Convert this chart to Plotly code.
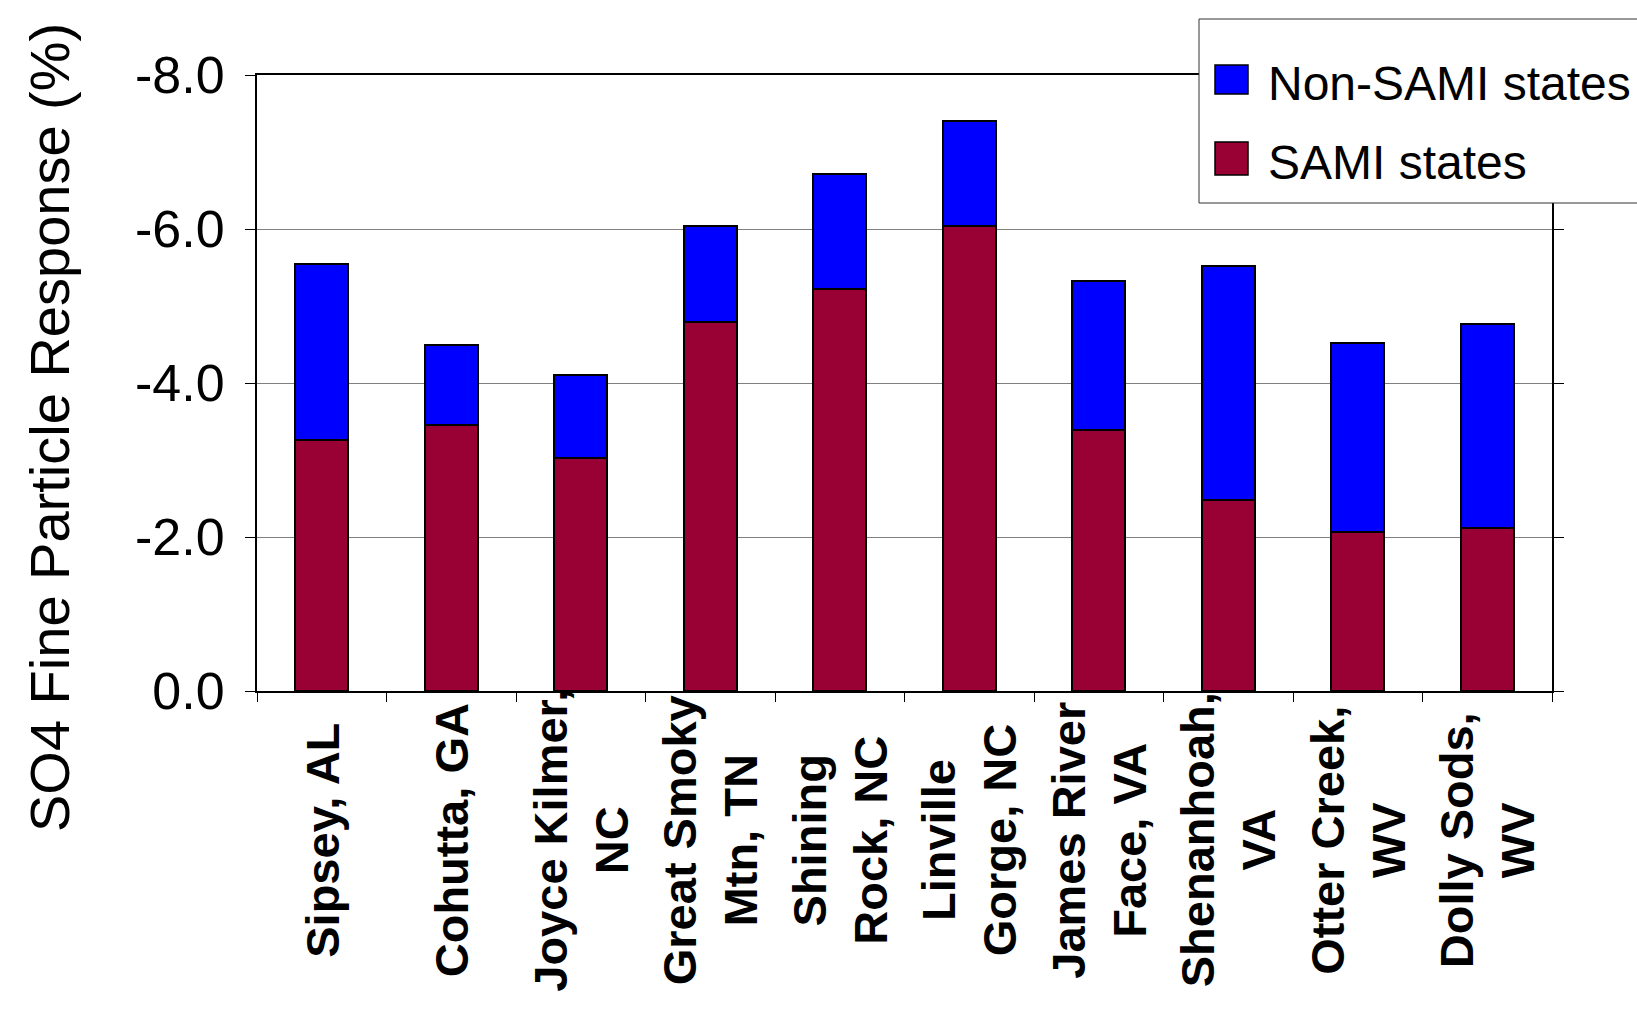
import plotly.graph_objects as go

# ---- data ----
sites = ["Sipsey, AL", "Cohutta, GA", "Joyce Kilmer, NC", "Great Smoky Mtn, TN",
         "Shining Rock, NC", "Linville Gorge, NC", "James River Face, VA",
         "Shenanhoah, VA", "Otter Creek, WV", "Dolly Sods, WV"]
site_labels = ["Sipsey, AL", "Cohutta, GA", "Joyce Kilmer,<br>NC", "Great Smoky<br>Mtn, TN",
               "Shining<br>Rock, NC", "Linville<br>Gorge, NC", "James River<br>Face, VA",
               "Shenanhoah,<br>VA", "Otter Creek,<br>WV", "Dolly Sods,<br>WV"]
sami_states = [-3.26, -3.45, -3.02, -4.79, -5.22, -6.04, -3.39, -2.48, -2.07, -2.12]
non_sami_states = [-2.28, -1.05, -1.08, -1.25, -1.49, -1.36, -1.94, -3.04, -2.45, -2.64]
y_ticks = [0, -2, -4, -6, -8]
y_tick_text = ["0.0", "-2.0", "-4.0", "-6.0", "-8.0"]
series_names = ["SAMI states", "Non-SAMI states"]
series_colors = ["#990033", "#0000FF"]

SANS = "Liberation Sans, Arial, sans-serif"

fig = go.Figure()
for name, vals, col in zip(series_names, [sami_states, non_sami_states], series_colors):
    fig.add_trace(go.Bar(x=sites, y=vals, name=name, marker_color=col,
                         marker_line=dict(color="black", width=2), showlegend=False))

W, H = 1637, 1010
L, R, T, B = 257, 85, 75, 319
pw, ph = W - L - R, H - T - B

def px(x):
    return (x - L) / pw

def py(y):
    return (H - B - y) / ph

fig.update_layout(
    width=W, height=H, barmode="stack", bargap=0.59,
    margin=dict(l=L, r=R, t=T, b=B),
    plot_bgcolor="white", paper_bgcolor="white",
    xaxis=dict(type="category", showticklabels=False, ticks="outside", ticklen=9,
               tickwidth=1, tickcolor="black", tickson="boundaries",
               showline=True, linecolor="black", linewidth=2, mirror=True,
               showgrid=False),
    yaxis=dict(range=[0, -8], tickvals=y_ticks, ticktext=y_tick_text,
               ticks="outside", ticklen=10, tickwidth=1, tickcolor="black",
               showline=True, linecolor="black", linewidth=2, mirror="ticks",
               showgrid=True, gridcolor="#808080", gridwidth=1, zeroline=False,
               tickfont=dict(family=SANS, size=52, color="black"),
               ticklabelstandoff=10),
)

# y-axis title
fig.add_annotation(text="SO4 Fine Particle Response (%)", xref="paper", yref="paper",
                   x=px(49), y=py(428), textangle=-90, showarrow=False,
                   xanchor="center", yanchor="middle",
                   font=dict(family=SANS, size=56, color="black"))

# category labels
for s, lab in zip(sites, site_labels):
    fig.add_annotation(text=lab, x=s, xref="x", yref="paper", y=py(840),
                       textangle=-90, showarrow=False, align="center",
                       xanchor="center", yanchor="middle",
                       font=dict(family=SANS, size=47, color="black", weight="bold"))

# legend (box, swatches, labels)
fig.add_shape(type="rect", xref="paper", yref="paper", x0=px(1199), x1=px(1680),
              y0=py(203), y1=py(19), fillcolor="white", line=dict(color="#333333", width=1))
legend_rows = [(series_names[1], series_colors[1], 65, 94), (series_names[0], series_colors[0], 142, 175)]
for name, col, y0, y1 in legend_rows:
    fig.add_shape(type="rect", xref="paper", yref="paper", x0=px(1215), x1=px(1248),
                  y0=py(y1), y1=py(y0), fillcolor=col, line=dict(color="black", width=1.5))
    fig.add_annotation(text=name, xref="paper", yref="paper", x=px(1266), y=py((y0 + y1) / 2 + 4),
                       xanchor="left", yanchor="middle", showarrow=False,
                       font=dict(family=SANS, size=48, color="black"))

fig.write_html("out.html")
